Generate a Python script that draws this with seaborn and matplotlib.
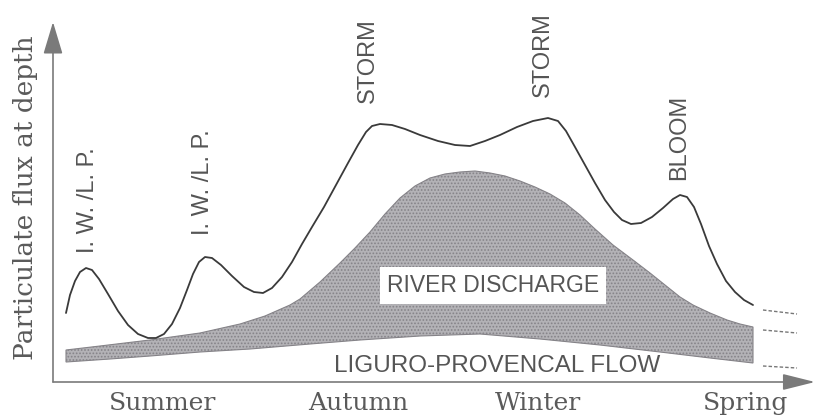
"""
    Schematic of particulate flux at depth over the year
    Upper curve = total flux, shaded = river discharge + Liguro-Provencal flow
"""
import matplotlib
matplotlib.use("Agg")
import matplotlib.pyplot as plt
import seaborn as sns
import numpy as np
import pandas as pd

# Total particulate flux (time units along the season axis, flux units)
flux_time = [13, 17, 22, 27, 33, 39, 46, 55, 65, 75, 85, 95, 103, 111, 119, 127, 134, 140, 146, 152,
             159, 168, 179, 191, 201, 210, 219, 229, 239, 249, 259, 271, 283, 295, 305, 313, 319, 327,
             339, 352, 367, 385, 402, 417, 432, 447, 464, 480, 495, 505, 513, 522, 532, 542, 552, 561,
             569, 578, 588, 599, 610, 620, 627, 634, 641, 648, 656, 664, 673, 682, 691, 700]
flux_total = [69, 87, 101, 110, 114, 112, 103, 88, 71, 57, 48, 44, 44, 48, 58, 74, 92, 108, 120, 125,
              124, 117, 106, 95, 90, 89, 94, 105, 120, 138, 155, 175, 197, 219, 237, 250, 256, 258,
              257, 253, 247, 241, 237, 236, 241, 247, 255, 261, 264, 261, 251, 235, 217, 199, 182, 170,
              162, 158, 159, 165, 174, 183, 187, 185, 175, 158, 136, 118, 101, 90, 82, 77]

# Upper edge of the river discharge contribution
river_time = [13, 47, 97, 147, 187, 212, 237, 247, 267, 287, 302, 317, 332, 347, 362, 377, 392, 407,
              422, 437, 452, 467, 482, 497, 512, 527, 542, 560, 580, 597, 612, 627, 640, 657, 674, 687, 700]
river_top = [32, 36, 42, 49, 58, 66, 77, 83, 100, 119, 134, 150, 168, 184, 196, 204, 208, 210,
             211, 209, 206, 201, 195, 188, 179, 167, 153, 137, 122, 109, 97, 85, 77, 69, 62, 58, 55]

# Lower edge of the shaded band
base_time = [13, 57, 97, 147, 197, 257, 307, 367, 427, 487, 547, 607, 657, 700]
base_flux = [20, 23, 26, 30, 33, 38, 42, 46, 48, 43, 37, 30, 24, 19]

# Dashed continuation into spring
dash_time = [710, 744]
dash_levels = [[72, 68], [52, 49], [16, 14]]

seasons = ["Summer", "Autumn", "Winter", "Spring"]
season_pos = [110, 305, 485, 693]

events = ["I. W. /L. P.", "I. W. /L. P.", "STORM", "STORM", "BLOOM"]
event_pos = [(35, 129), (150, 147), (315, 279), (490, 285), (626, 202)]

sns.set_theme(style="white")
plt.rcParams["font.family"] = ["Liberation Sans", "DejaVu Sans"]
plt.rcParams["hatch.linewidth"] = 0.8

fig = plt.figure(figsize=(8.16, 4.19), dpi=100)
ax = fig.add_axes([53 / 816, 37 / 419, 763 / 816, 382 / 419])
ax.set_xlim(0, 763)
ax.set_ylim(0, 382)
ax.axis("off")

# Shaded band
poly_x = river_time + base_time[::-1]
poly_y = river_top + base_flux[::-1]
ax.fill(poly_x, poly_y, facecolor="#b3b2b6", edgecolor="#858388", hatch=".....", lw=0.8)

# Total flux curve
df = pd.DataFrame({"time": flux_time, "flux": flux_total})
sns.lineplot(data=df, x="time", y="flux", sort=False, estimator=None, color="#3a3a3a", lw=1.3, ax=ax)

for lv in dash_levels:
    ax.plot(dash_time, lv, ls=(0, (2.5, 1.5)), color="#777777", lw=1.0)

# Axes with arrowheads
ax.annotate("", xy=(0, 360), xytext=(0, 0),
            arrowprops=dict(arrowstyle="-|>,head_length=1.0,head_width=0.3", mutation_scale=20,
                            color="#7a7a7a", lw=1.2, shrinkA=0, shrinkB=0))
ax.annotate("", xy=(762, 0), xytext=(0, 0),
            arrowprops=dict(arrowstyle="-|>,head_length=1.0,head_width=0.25", mutation_scale=20,
                            color="#7a7a7a", lw=1.2, shrinkA=0, shrinkB=0))

# Labels
for name, (ex, ey) in zip(events, event_pos):
    ax.text(ex, ey, name, rotation=90, ha="center", va="bottom", fontsize=17, color="#555555")

ax.text(440, 90, "RIVER DISCHARGE", ha="center", va="baseline", fontsize=16.5, color="#555555",
        bbox=dict(boxstyle="square,pad=0.3", facecolor="white", edgecolor="none"))
ax.text(444, 10, "LIGURO-PROVENCAL FLOW", ha="center", va="baseline", fontsize=17.5, color="#555555")

for name, sx in zip(seasons, season_pos):
    ax.text(sx, -28, name, ha="center", va="baseline", fontsize=18, color="#5a5a5a",
            family="DejaVu Serif")

ax.text(-28, 184, "Particulate flux at depth", rotation=90, ha="center", va="center",
        fontsize=19, color="#5a5a5a", family="DejaVu Serif")

plt.savefig("out.png", dpi=100)
